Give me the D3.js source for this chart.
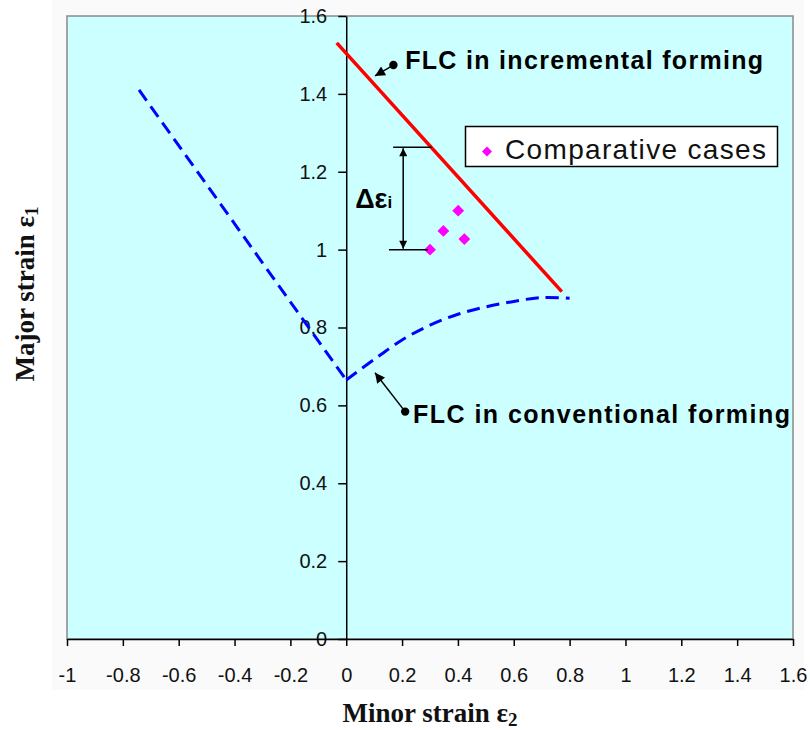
<!DOCTYPE html>
<html>
<head>
<meta charset="utf-8">
<script src="https://cdn.jsdelivr.net/npm/d3@7"></script>
<style>
  body { margin: 0; background: #fff; }
  svg { display: block; }
</style>
</head>
<body>
<svg id="chart" width="810" height="730"></svg>
<script>
// Axis ticks and their printed labels
const xTicks = [-1, -0.8, -0.6, -0.4, -0.2, 0, 0.2, 0.4, 0.6, 0.8, 1, 1.2, 1.4, 1.6];
const xTickLabels = ["-1", "-0.8", "-0.6", "-0.4", "-0.2", "0", "0.2", "0.4", "0.6", "0.8", "1", "1.2", "1.4", "1.6"];
const yTicks = [0, 0.2, 0.4, 0.6, 0.8, 1, 1.2, 1.4, 1.6];
const yTickLabels = ["0", "0.2", "0.4", "0.6", "0.8", "1", "1.2", "1.4", "1.6"];

// FLC in incremental forming (straight line)
const incrementalX = [-0.034, 0.772];
const incrementalY = [1.531, 0.892];

// FLC in conventional forming: left (drawing) branch and right (stretching) branch
const conventionalLeftX = [-0.742, 0];
const conventionalLeftY = [1.41, 0.665];
const conventionalRightX = [0, 0.1, 0.2, 0.3, 0.4, 0.5, 0.6, 0.7, 0.8];
const conventionalRightY = [0.665, 0.718, 0.768, 0.806, 0.834, 0.853, 0.867, 0.877, 0.875];

// Comparative cases (minor strain, major strain)
const casesX = [0.30, 0.348, 0.401, 0.423];
const casesY = [1.0, 1.048, 1.10, 1.027];

// Strain-gap marker between the comparative case and the incremental FLC
const gapX = 0.204;
const gapTop = 1.263;
const gapBottom = 1.0;

const svg = d3.select("#chart");

const plot = { left: 67, right: 793, top: 16, bottom: 639 };
const x = d3.scaleLinear().domain([-1, 1.6]).range([plot.left, plot.right]);
const y = d3.scaleLinear().domain([0, 1.6]).range([plot.bottom, plot.top]);

const defs = svg.append("defs");
defs.append("marker")
  .attr("id", "head").attr("viewBox", "0 0 10 10")
  .attr("refX", 10).attr("refY", 5)
  .attr("markerWidth", 9).attr("markerHeight", 8)
  .attr("markerUnits", "userSpaceOnUse")
  .attr("orient", "auto-start-reverse")
  .append("path").attr("d", "M0,0 L10,5 L0,10 Z").attr("fill", "#000");
defs.append("marker")
  .attr("id", "bigHead").attr("viewBox", "0 0 10 10")
  .attr("refX", 10).attr("refY", 5)
  .attr("markerWidth", 12).attr("markerHeight", 10)
  .attr("markerUnits", "userSpaceOnUse")
  .attr("orient", "auto")
  .append("path").attr("d", "M0,0 L10,5 L0,10 Z").attr("fill", "#000");

// Chart area and plot area
svg.append("rect")
  .attr("x", 52).attr("y", 0).attr("width", 752).attr("height", 690)
  .attr("fill", "#fafafa");
svg.append("rect")
  .attr("x", plot.left).attr("y", plot.top)
  .attr("width", plot.right - plot.left).attr("height", plot.bottom - plot.top)
  .attr("fill", "#ccffff").attr("stroke", "#8a8a8a").attr("stroke-width", 1.5);

// Axes
const tickFont = "'Liberation Sans', Arial, sans-serif";
const yAxis = svg.append("g")
  .attr("transform", `translate(${x(0)},0)`)
  .call(d3.axisLeft(y).tickValues(yTicks)
    .tickFormat((d, i) => yTickLabels[i])
    .tickSize(8).tickSizeOuter(0).tickPadding(11));
const xAxis = svg.append("g")
  .attr("transform", `translate(0,${y(0)})`)
  .call(d3.axisBottom(x).tickValues(xTicks)
    .tickFormat((d, i) => xTickLabels[i])
    .tickSize(7).tickSizeOuter(0).tickPadding(22));
[xAxis, yAxis].forEach(g => {
  g.selectAll("path.domain").attr("stroke", "#000").attr("stroke-width", 1.5);
  g.selectAll(".tick line").attr("stroke", "#000").attr("stroke-width", 1.5);
  g.selectAll(".tick text")
    .attr("fill", "#111")
    .style("font-family", tickFont)
    .style("font-size", "20px");
});

// Curves
const straight = d3.line().x(d => x(d[0])).y(d => y(d[1]));
const smooth = d3.line().x(d => x(d[0])).y(d => y(d[1])).curve(d3.curveCatmullRom);

svg.append("path")
  .datum(conventionalLeftX.map((v, i) => [v, conventionalLeftY[i]]))
  .attr("d", straight)
  .attr("fill", "none").attr("stroke", "#0000ff").attr("stroke-width", 3)
  .attr("stroke-dasharray", "13,7");
svg.append("path")
  .datum(conventionalRightX.map((v, i) => [v, conventionalRightY[i]]))
  .attr("d", smooth)
  .attr("fill", "none").attr("stroke", "#0000ff").attr("stroke-width", 3)
  .attr("stroke-dasharray", "13,7");

svg.append("path")
  .datum(incrementalX.map((v, i) => [v, incrementalY[i]]))
  .attr("d", straight)
  .attr("fill", "none").attr("stroke", "#ff0000").attr("stroke-width", 3.5);

// Comparative cases as diamonds
const diamond = d3.symbol().type(d3.symbolSquare).size(70);
svg.append("g").selectAll("path")
  .data(casesX.map((v, i) => [v, casesY[i]]))
  .join("path")
  .attr("d", diamond)
  .attr("transform", d => `translate(${x(d[0])},${y(d[1])}) rotate(45)`)
  .attr("fill", "#ff00ff");

// Strain-gap dimension lines
const dim = svg.append("g").attr("stroke", "#000").attr("stroke-width", 1.5);
dim.append("line")
  .attr("x1", x(0.168)).attr("x2", x(0.306))
  .attr("y1", y(gapTop)).attr("y2", y(gapTop));
dim.append("line")
  .attr("x1", x(0.153)).attr("x2", x(0.293))
  .attr("y1", y(gapBottom)).attr("y2", y(gapBottom));
dim.append("line")
  .attr("x1", x(gapX)).attr("x2", x(gapX))
  .attr("y1", y(gapTop) + 1).attr("y2", y(gapBottom) - 1)
  .attr("marker-start", "url(#head)").attr("marker-end", "url(#head)");

const gapLabel = svg.append("text")
  .attr("x", x(0.032)).attr("y", y(1.107))
  .style("font-family", tickFont).style("font-weight", "bold")
  .style("font-size", "27px").attr("fill", "#000");
gapLabel.append("tspan").text("Δε");
gapLabel.append("tspan").style("font-size", "17px").text("i");

// Callouts
const annFont = "'Liberation Sans', Arial, sans-serif";
function callout(dotX, dotY, tipX, tipY, textX, textY, label, width) {
  svg.append("line")
    .attr("x1", x(dotX)).attr("y1", y(dotY))
    .attr("x2", x(tipX)).attr("y2", y(tipY))
    .attr("stroke", "#000").attr("stroke-width", 1.5)
    .attr("marker-end", "url(#bigHead)");
  svg.append("circle")
    .attr("cx", x(dotX)).attr("cy", y(dotY)).attr("r", 4.2)
    .attr("fill", "#000");
  svg.append("text")
    .attr("x", x(textX)).attr("y", y(textY))
    .attr("textLength", width).attr("lengthAdjust", "spacing")
    .style("font-family", annFont).style("font-weight", "bold")
    .style("font-size", "25px").attr("fill", "#000")
    .text(label);
}
callout(0.169, 1.474, 0.103, 1.446, 0.211, 1.463, "FLC in incremental forming", 358);
callout(0.211, 0.584, 0.103, 0.684, 0.239, 0.554, "FLC in conventional forming", 377);

// Legend
const legend = svg.append("g");
legend.append("rect")
  .attr("x", 465.5).attr("y", 126.5).attr("width", 312).attr("height", 40)
  .attr("fill", "#fff").attr("stroke", "#000").attr("stroke-width", 1.5);
legend.append("path")
  .attr("d", d3.symbol().type(d3.symbolSquare).size(50))
  .attr("transform", "translate(487,151.5) rotate(45)")
  .attr("fill", "#ff00ff");
legend.append("text")
  .attr("x", 505).attr("y", 159)
  .attr("textLength", 261).attr("lengthAdjust", "spacing")
  .style("font-family", tickFont).style("font-size", "28px")
  .attr("fill", "#111")
  .text("Comparative cases");

// Axis titles
const titleFont = "'Liberation Serif', 'Times New Roman', serif";
const xTitle = svg.append("text")
  .attr("x", 430).attr("y", 722).attr("text-anchor", "middle")
  .style("font-family", titleFont).style("font-weight", "bold")
  .style("font-size", "27px").attr("fill", "#111");
xTitle.append("tspan").text("Minor strain ε");
xTitle.append("tspan").attr("dy", 4).style("font-size", "19px").text("2");

const yTitle = svg.append("text")
  .attr("transform", "translate(34,294) rotate(-90)")
  .attr("text-anchor", "middle")
  .style("font-family", titleFont).style("font-weight", "bold")
  .style("font-size", "27px").attr("fill", "#111");
yTitle.append("tspan").text("Major strain ε");
yTitle.append("tspan").attr("dy", 4).style("font-size", "19px").text("1");
</script>
</body>
</html>
